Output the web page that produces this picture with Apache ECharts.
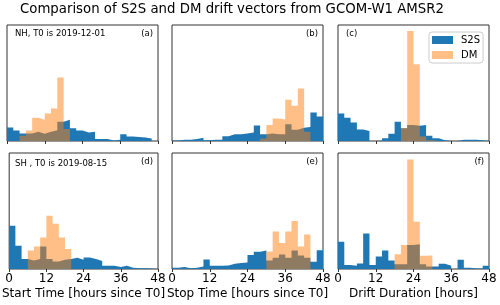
<!DOCTYPE html>
<html>
<head>
<meta charset="utf-8">
<script src="https://cdn.jsdelivr.net/npm/echarts@6/dist/echarts.min.js"></script>
<style>
  html, body { margin: 0; padding: 0; background: #fff; }
  #chart { width: 500px; height: 305px; }
</style>
</head>
<body>
<div id="chart"></div>
<script>
// ---- data ----
const binEdges = [0, 2, 4, 6, 8, 10, 12, 14, 16, 18, 20, 22, 24, 26, 28, 30, 32, 34, 36, 38, 40, 42, 44, 46, 48];
const xTicks = [0, 12, 24, 36, 48];

// (a) NH start time
const s2sStartNH = [0.034, 0.026, 0.019, 0.019, 0.023, 0.018, 0.023, 0.027, 0.048, 0.053, 0.032, 0.026, 0.021, 0.023, 0.005, 0.005, 0.001, 0.003, 0.017, 0.011, 0.010, 0.009, 0.006, 0.000];
const dmStartNH  = [0, 0, 0.013, 0.026, 0.058, 0.053, 0.069, 0.081, 0.159, 0.030, 0, 0, 0, 0, 0, 0, 0, 0, 0, 0, 0, 0, 0, 0];
// (b) NH stop time
const s2sStopNH = [0.001, 0.003, 0.003, 0.005, 0.008, 0.002, 0.003, 0.003, 0.012, 0.017, 0.017, 0.019, 0.021, 0.039, 0.017, 0.019, 0.017, 0.017, 0.042, 0.028, 0.033, 0.035, 0.071, 0.061];
const dmStopNH  = [0, 0, 0, 0, 0, 0, 0, 0, 0, 0, 0, 0, 0, 0, 0.006, 0.040, 0.056, 0.054, 0.103, 0.088, 0.131, 0.023, 0, 0];
// (c) NH drift duration
const s2sDurNH = [0.069, 0.058, 0.046, 0.029, 0.025, 0, 0.001, 0.007, 0.018, 0.048, 0.032, 0.040, 0.038, 0.040, 0.013, 0.007, 0.002, 0, 0, 0.003, 0.003, 0.003, 0.002, 0.001];
const dmDurNH  = [0, 0, 0, 0, 0, 0, 0, 0, 0, 0, 0.032, 0.275, 0.192, 0.011, 0.002, 0, 0, 0, 0, 0, 0, 0, 0, 0];
// (d) SH start time
const s2sStartSH = [0.108, 0.058, 0.025, 0.021, 0.025, 0.056, 0.025, 0.019, 0.023, 0.025, 0.028, 0.023, 0.029, 0.025, 0.020, 0.008, 0.008, 0.005, 0.008, 0.003, 0.002, 0.002, 0.001, 0.001];
const dmStartSH  = [0, 0, 0, 0.046, 0.056, 0.079, 0.133, 0.113, 0.079, 0.050, 0, 0, 0, 0, 0, 0, 0, 0, 0, 0, 0, 0, 0, 0];
// (e) SH stop time
const s2sStopSH = [0.003, 0.005, 0.002, 0.003, 0.006, 0.024, 0.008, 0.008, 0.009, 0.013, 0.015, 0.016, 0.035, 0.043, 0.046, 0.021, 0.028, 0.036, 0.028, 0.046, 0.034, 0.028, 0.018, 0.047];
const dmStopSH  = [0, 0, 0, 0, 0, 0, 0, 0, 0, 0, 0, 0, 0, 0, 0, 0.044, 0.094, 0.065, 0.094, 0.120, 0.056, 0.086, 0, 0];
// (f) SH drift duration
const s2sDurSH = [0.068, 0.010, 0.008, 0.014, 0.089, 0.010, 0.031, 0.046, 0.021, 0.012, 0.012, 0.060, 0.062, 0.012, 0.006, 0.006, 0.013, 0.008, 0, 0.023, 0.003, 0.001, 0.001, 0.008];
const dmDurSH  = [0, 0, 0, 0, 0, 0, 0, 0, 0, 0.037, 0.060, 0.274, 0.118, 0.033, 0.034, 0, 0, 0, 0, 0, 0, 0, 0, 0];

const titleText = 'Comparison of S2S and DM drift vectors from GCOM-W1 AMSR2';
const xNames = ['Start Time [hours since T0]', 'Stop Time [hours since T0]', 'Drift Duration [hours]'];
const panelTags = ['(a)', '(b)', '(c)', '(d)', '(e)', '(f)'];
const rowTexts = ['NH, T0 is 2019-12-01', 'SH , T0 is 2019-08-15'];
const seriesNames = ['S2S', 'DM'];

const panelsS2S = [s2sStartNH, s2sStopNH, s2sDurNH, s2sStartSH, s2sStopSH, s2sDurSH];
const panelsDM  = [dmStartNH, dmStopNH, dmDurNH, dmStartSH, dmStopSH, dmDurSH];

// ---- layout / style ----
const BLUE = '#1f77b4';
const ORANGE = 'rgba(255,127,14,0.5)';
const FONT = 'DejaVu Sans';
const lefts = [7, 172, 338];
const tops = [25, 153];
const W = 151, H = 116;
const Y_MAX = 0.29;

function toSteps(vals) {
  const pts = vals.map((v, k) => [binEdges[k], v]);
  pts.push([binEdges[binEdges.length - 1], vals[vals.length - 1]]);
  return pts;
}

const grids = [], xAxes = [], yAxes = [], series = [], titles = [];
titles.push({ text: titleText, left: 20, top: 3,
  textStyle: { fontFamily: FONT, fontSize: 13.3, fontWeight: 'normal', color: '#000' } });

for (let i = 0; i < 6; i++) {
  const r = Math.floor(i / 3), c = i % 3;
  grids.push({ left: lefts[c], top: tops[r], width: W, height: H, show: true,
    borderColor: '#333', borderWidth: 1, backgroundColor: 'transparent' });
  xAxes.push({ type: 'value', gridIndex: i, min: 0, max: 48, interval: 12,
    axisLine: { show: false }, splitLine: { show: false },
    axisTick: { show: true, length: 3, lineStyle: { color: '#333', width: 1 } },
    axisLabel: { show: r === 1, margin: 4, fontFamily: FONT, fontSize: 12, color: '#000',
      formatter: v => xTicks.includes(v) ? String(v) : '' },
    name: r === 1 ? xNames[c] : '', nameLocation: 'middle', nameGap: 19,
    nameTextStyle: { fontFamily: FONT, fontSize: 12, color: '#000' } });
  yAxes.push({ type: 'value', gridIndex: i, min: 0, max: Y_MAX,
    axisLine: { show: false }, axisTick: { show: false }, axisLabel: { show: false },
    splitLine: { show: false } });
  [[panelsS2S[i], BLUE, seriesNames[0]], [panelsDM[i], ORANGE, seriesNames[1]]].forEach(([vals, col, nm]) => {
    series.push({ type: 'line', name: nm, xAxisIndex: i, yAxisIndex: i, step: 'end',
      data: toSteps(vals), showSymbol: false, symbol: 'none', silent: true,
      color: col, itemStyle: { color: col },
      lineStyle: { width: 0, opacity: 0 }, areaStyle: { color: col, opacity: 1 } });
  });
  const tagLeft = c === 2 && r === 0;
  titles.push({ text: panelTags[i],
    left: tagLeft ? lefts[c] + 8 : undefined,
    right: tagLeft ? undefined : 500 - (lefts[c] + W) + 5,
    top: tops[r] + 4,
    textStyle: { fontFamily: FONT, fontSize: 8.5, fontWeight: 'normal', color: '#000' } });
}
titles.push({ text: rowTexts[0], left: 15, top: 29,
  textStyle: { fontFamily: FONT, fontSize: 8.5, fontWeight: 'normal', color: '#000' } });
titles.push({ text: rowTexts[1], left: 15, top: 159,
  textStyle: { fontFamily: FONT, fontSize: 8.5, fontWeight: 'normal', color: '#000' } });
titles.forEach(t => { t.padding = 0; });

const chart = echarts.init(document.getElementById('chart'), null, { renderer: 'canvas' });
chart.setOption({
  animation: false,
  backgroundColor: '#fff',
  title: titles,
  legend: {
    orient: 'vertical', left: 429, top: 32,
    padding: [3, 3, 3, 3], itemGap: 5, itemWidth: 21, itemHeight: 8,
    borderColor: '#ccc', borderWidth: 1, borderRadius: 3, backgroundColor: 'rgba(255,255,255,0.8)',
    textStyle: { fontFamily: FONT, fontSize: 10, color: '#000', padding: [0, 0, 0, 3] },
    data: [
      { name: seriesNames[0], icon: 'rect', itemStyle: { color: BLUE, borderWidth: 0 } },
      { name: seriesNames[1], icon: 'rect', itemStyle: { color: ORANGE, borderWidth: 0 } }
    ]
  },
  grid: grids, xAxis: xAxes, yAxis: yAxes, series: series
});
</script>
</body>
</html>
